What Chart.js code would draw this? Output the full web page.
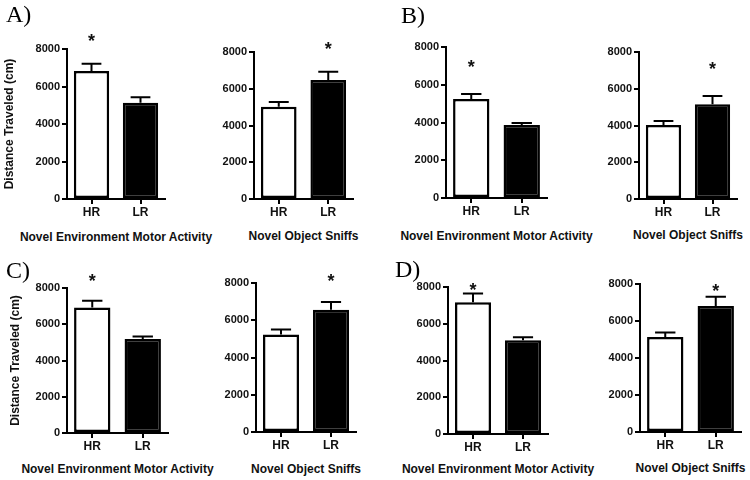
<!DOCTYPE html>
<html>
<head>
<meta charset="utf-8">
<title>HR vs LR - Distance Traveled</title>
<script src="https://cdn.jsdelivr.net/npm/chart.js"></script>
<style>
  body { margin: 0; background: #fff; }
  #fig { position: relative; width: 750px; height: 480px; overflow: hidden; background: #fff; }
  #fig canvas { position: absolute; }
  .tag { position: absolute; z-index: 2; color: #000; font-family: "Liberation Serif", "Times New Roman", serif; font-size: 24px; line-height: 24px; }
  .task { position: absolute; z-index: 2; width: 300px; text-align: center; color: #111; white-space: nowrap;
          font-family: "Liberation Sans", Arial, sans-serif; font-weight: bold; font-size: 12px; line-height: 14px; }
</style>
</head>
<body>
<div id="fig"></div>
<script>
// ---- data ----
const groups = ['HR', 'LR'];
const panelTags = ['A)', 'B)', 'C)', 'D)'];
const tasks = ['Novel Environment Motor Activity', 'Novel Object Sniffs'];
const yTitle = 'Distance Traveled (cm)';
const yTicks = [0, 2000, 4000, 6000, 8000];

// novel environment motor activity, panels A-D
const envHR = [6830, 5250, 6930, 7170];
const envHRErr = [390, 265, 365, 475];
const envLR = [5140, 3870, 5180, 5100];
const envLRErr = [290, 105, 150, 165];
const envStar = [8670, 7170, 8640, 8090];   // asterisk level over HR

// novel object sniffs, panels A-D
const objHR = [5020, 4030, 5230, 5130];
const objHRErr = [255, 215, 270, 250];
const objLR = [6480, 5150, 6570, 6810];
const objLRErr = [450, 450, 410, 500];
const objStar = [8380, 7280, 8320, 7860];   // asterisk level over LR

// ---- layout: plot-area frames in page pixels ----
// l/r/t/b = plot area, ty = x-title centre, yx = y-title centre
const frames = [
  [{l: 67, r: 165, t: 49, b: 199, ty: 237, yx: 10}, {l: 254, r: 353, t: 52, b: 199, ty: 236}],
  [{l: 446, r: 547, t: 47, b: 198, ty: 236}, {l: 639, r: 737, t: 52, b: 199, ty: 235}],
  [{l: 67, r: 168, t: 288, b: 433, ty: 469, yx: 16}, {l: 256, r: 356, t: 283, b: 432, ty: 469}],
  [{l: 448, r: 548, t: 287, b: 434, ty: 469}, {l: 640, r: 741, t: 284, b: 432, ty: 468}]
];
const tagPos = [[6, 2], [401, 3], [6, 258], [395, 257]];

const PAD_TOP = 32, PAD_RIGHT = 20, Y_W = 60, X_H = 24;
const SANS = '"Liberation Sans", Arial, Helvetica, sans-serif';
Chart.defaults.font.family = SANS;

// error bars + significance asterisk
const errorBars = {
  id: 'errorBars',
  afterDatasetsDraw(chart, args, opts) {
    const ctx = chart.ctx;
    const y = chart.scales.y;
    const values = chart.data.datasets[0].data;
    const bars = chart.getDatasetMeta(0).data;
    ctx.save();
    ctx.strokeStyle = '#000';
    ctx.lineWidth = 2;
    bars.forEach((bar, i) => {
      const top = y.getPixelForValue(values[i] + opts.errors[i]);
      const half = bar.width * 0.28;
      ctx.beginPath();
      ctx.moveTo(bar.x, bar.y);
      ctx.lineTo(bar.x, top);
      ctx.moveTo(bar.x - half, top);
      ctx.lineTo(bar.x + half, top);
      ctx.stroke();
    });
    const s = bars[opts.starIndex];
    ctx.fillStyle = '#111';
    ctx.font = 'bold 18px ' + SANS;
    ctx.textAlign = 'center';
    ctx.textBaseline = 'alphabetic';
    ctx.fillText('*', s.x, y.getPixelForValue(opts.starLevel) + 0.57 * 18);
    ctx.restore();
  }
};

const fig = document.getElementById('fig');

panelTags.forEach((tag, p) => {
  const el = document.createElement('div');
  el.className = 'tag';
  el.textContent = tag;
  el.style.left = tagPos[p][0] + 'px';
  el.style.top = tagPos[p][1] + 'px';
  fig.appendChild(el);

  [0, 1].forEach(t => {
    const f = frames[p][t];
    const hasTitle = f.yx !== undefined;
    const yW = hasTitle ? f.l : Y_W;
    const cv = document.createElement('canvas');
    cv.width = yW + (f.r - f.l) + PAD_RIGHT;
    cv.height = PAD_TOP + (f.b - f.t) + X_H;
    cv.style.left = (f.l - yW) + 'px';
    cv.style.top = (f.t - PAD_TOP) + 'px';
    fig.appendChild(cv);

    // task name under the axis (kept as HTML so it is not squeezed to the axis width)
    const lab = document.createElement('div');
    lab.className = 'task';
    lab.textContent = tasks[t];
    lab.style.left = ((f.l + f.r) / 2 - 150) + 'px';
    lab.style.top = (f.ty - 7) + 'px';
    fig.appendChild(lab);

    const values = t === 0 ? [envHR[p], envLR[p]] : [objHR[p], objLR[p]];
    const errors = t === 0 ? [envHRErr[p], envLRErr[p]] : [objHRErr[p], objLRErr[p]];

    new Chart(cv, {
      type: 'bar',
      data: {
        labels: groups,
        datasets: [{
          data: values,
          backgroundColor: ['#fff', '#000'],
          borderColor: '#000',
          borderWidth: 2.5,
          borderSkipped: false,
          barPercentage: 0.72,
          categoryPercentage: 1
        }]
      },
      options: {
        responsive: false,
        animation: false,
        events: [],
        layout: { padding: { top: PAD_TOP, right: PAD_RIGHT, left: 0, bottom: 0 } },
        plugins: {
          legend: { display: false },
          tooltip: { enabled: false },
          errorBars: {
            errors: errors,
            starIndex: t === 0 ? 0 : 1,
            starLevel: t === 0 ? envStar[p] : objStar[p]
          }
        },
        scales: {
          x: {
            grid: { offset: false, drawOnChartArea: false, color: '#000', lineWidth: 2, tickLength: 5 },
            border: { color: '#000', width: 2 },
            ticks: { color: '#111', padding: 1, font: { size: 12, weight: 'bold' } },
            afterFit: s => { s.height = X_H; }
          },
          y: {
            min: 0,
            max: 8000,
            afterBuildTicks: s => { s.ticks = yTicks.map(v => ({ value: v })); },
            grid: { drawOnChartArea: false, color: '#000', lineWidth: 2, tickLength: 5 },
            border: { color: '#000', width: 2 },
            ticks: { color: '#111', padding: 2, font: { size: 11, weight: 'bold' }, callback: v => String(v) },
            title: {
              display: hasTitle,
              text: yTitle,
              color: '#111',
              padding: { top: hasTitle ? f.yx - 7.2 : 0, bottom: 0 },
              font: { size: 12, weight: 'bold' }
            },
            afterFit: s => { s.width = yW; }
          }
        }
      },
      plugins: [errorBars]
    });
  });
});
</script>
</body>
</html>
